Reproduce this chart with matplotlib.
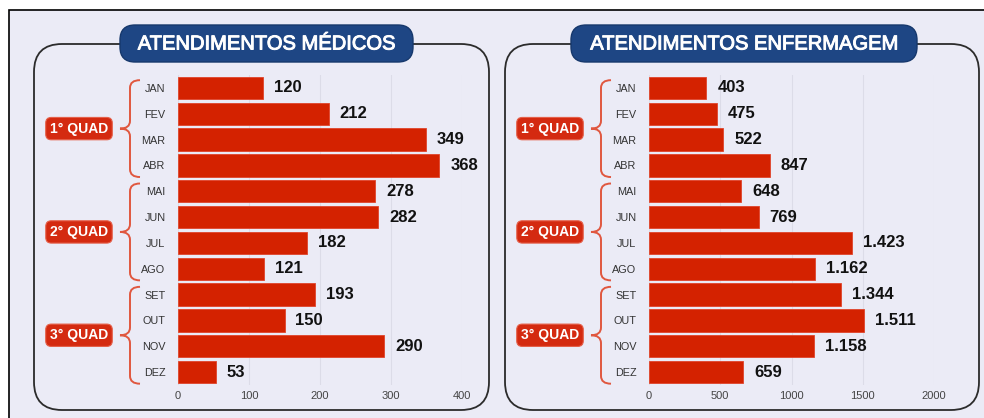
import matplotlib
matplotlib.use("Agg")
import matplotlib.pyplot as plt
from matplotlib.patches import FancyBboxPatch, Rectangle, PathPatch
from matplotlib.path import Path
import matplotlib.transforms as mtransforms
import matplotlib.patheffects as pe

plt.rcParams['font.family'] = ['Liberation Sans', 'DejaVu Sans']

# dados
meses = ["JAN", "FEV", "MAR", "ABR", "MAI", "JUN", "JUL", "AGO", "SET", "OUT", "NOV", "DEZ"]
quadrimestres = ["1° QUAD", "2° QUAD", "3° QUAD"]
medicos = [120, 212, 349, 368, 278, 282, 182, 121, 193, 150, 290, 53]
enfermagem = [403, 475, 522, 847, 648, 769, 1423, 1162, 1344, 1511, 1158, 659]
ticks_med = [0, 100, 200, 300, 400]
ticks_enf = [0, 500, 1000, 1500, 2000]

W, H = 984, 418
BAR = "#d42200"
BRACE = "#e0573f"
NAVY = "#1e4684"
BG = "#ebebf6"

fig = plt.figure(figsize=(W / 100, H / 100), dpi=100, facecolor="white")
inch = fig.dpi_scale_trans


def px(x, y):
    # pixel (origem no topo) -> polegadas
    return x / 100, (H - y) / 100


# fundo com moldura
fig.patches.append(Rectangle(px(9, 440), 10.2, 4.30, transform=inch, facecolor=BG,
                             edgecolor="black", lw=1.2, zorder=-10))


def fmt(v):
    return "{:,}".format(v).replace(",", ".")


def painel(x0, x1, titulo, tx0, tx1, ax_x0, ax_x1, valores, ticks):
    # moldura arredondada
    fig.patches.append(FancyBboxPatch(px(x0, 410), (x1 - x0) / 100, (410 - 44) / 100,
                                      boxstyle="round,pad=0,rounding_size=0.28",
                                      transform=inch, facecolor="none",
                                      edgecolor="#2b2b2b", lw=1.3, zorder=-5))
    # titulo
    fig.patches.append(FancyBboxPatch(px(tx0, 62), (tx1 - tx0) / 100, 0.37,
                                      boxstyle="round,pad=0,rounding_size=0.15",
                                      transform=inch, facecolor=NAVY,
                                      edgecolor="#16386c", lw=1, zorder=-4))
    cx, cy = px((tx0 + tx1) / 2, 44)
    fig.text(cx, cy, titulo, transform=inch, ha="center", va="center",
             color="white", fontsize=14.5, zorder=5,
             path_effects=[pe.withStroke(linewidth=0.7, foreground="white")])

    ax = fig.add_axes([ax_x0 / W, 1 - 385 / H, (ax_x1 - ax_x0) / W, 310 / H])
    ax.set_facecolor("none")
    pos = list(range(len(meses)))
    ax.barh(pos, valores, height=0.86, color=BAR, edgecolor="#e0442a", lw=0.6, zorder=3)
    ax.set_ylim(11.5, -0.5)
    ax.set_xlim(ticks[0], ticks[-1])
    ax.set_yticks(pos)
    ax.set_yticklabels(meses, fontsize=7.8, color="#333333")
    ax.set_xticks(ticks)
    ax.set_xticklabels([str(t) for t in ticks], fontsize=8, color="#444444")
    ax.tick_params(length=0, axis="y", pad=9)
    ax.tick_params(length=0, axis="x", pad=4)
    for s in ax.spines.values():
        s.set_visible(False)
    ax.grid(axis="x", color="#dcdce8", lw=0.8, zorder=0)
    ax.set_axisbelow(True)

    for p, v in zip(pos, valores):
        ax.annotate(fmt(v), (v, p), xytext=(11, 0), textcoords="offset pixels",
                    ha="left", va="center", fontsize=12, fontweight="bold",
                    color="#111111", annotation_clip=False)

    # chaves e rotulos dos quadrimestres
    tr = mtransforms.blended_transform_factory(inch, ax.transData)
    xe = (ax_x0 - 38) / 100
    xv = (ax_x0 - 48) / 100
    xt = (ax_x0 - 58) / 100
    for q, nome in enumerate(quadrimestres):
        y0 = q * 4 - 0.3
        y1 = q * 4 + 3 + 0.45
        ym = (y0 + y1) / 2
        r = 0.3
        verts = [(xe, y0), (xv, y0), (xv, y0 + r), (xv, ym - r), (xv, ym), (xt, ym),
                 (xv, ym), (xv, ym + r), (xv, y1 - r), (xv, y1), (xe, y1)]
        codes = [Path.MOVETO, Path.CURVE3, Path.CURVE3, Path.LINETO, Path.CURVE3, Path.CURVE3,
                 Path.CURVE3, Path.CURVE3, Path.LINETO, Path.CURVE3, Path.CURVE3]
        ax.add_patch(PathPatch(Path(verts, codes), transform=tr, facecolor="none",
                               edgecolor=BRACE, lw=1.4, clip_on=False))
        ax.text((ax_x0 - 99) / 100, ym, nome, transform=tr, ha="center", va="center",
                color="white", fontsize=10, fontweight="bold", clip_on=False,
                bbox=dict(boxstyle="round,pad=0.3,rounding_size=0.4",
                          facecolor="#d42a10", edgecolor="#e5604a", lw=0.8))
    return ax


painel(34, 489, "ATENDIMENTOS MÉDICOS", 120, 413, 178, 462, medicos, ticks_med)
painel(505, 979, "ATENDIMENTOS ENFERMAGEM", 571, 917, 649, 934, enfermagem, ticks_enf)

fig.savefig("out.png", dpi=100, facecolor=fig.get_facecolor())
